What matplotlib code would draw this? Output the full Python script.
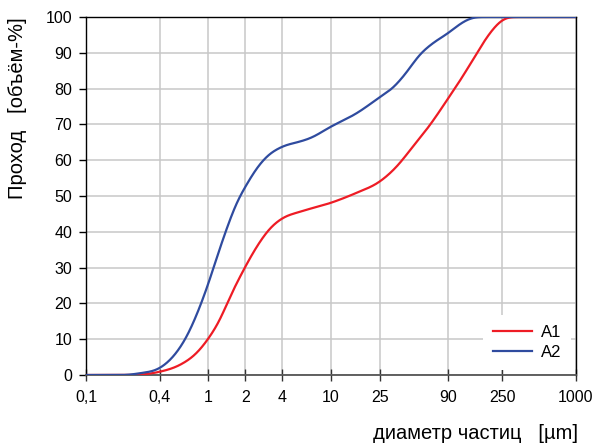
import matplotlib
matplotlib.use("Agg")
import matplotlib.pyplot as plt
import numpy as np

plt.rcParams['font.family'] = ['Liberation Sans', 'DejaVu Sans']

# particle diameter [um] and cumulative passing [vol-%]
d_a1 = [0.1, 0.2, 0.3, 0.4, 0.585, 0.8, 1.0, 1.24, 1.5, 1.75, 2.0, 2.47, 3.18,
        4.0, 5.58, 10, 16.2, 25, 34.4, 46.6, 64.2, 90.6, 121, 155, 198, 250,
        294, 1000]
p_a1 = [0, 0, 0.2, 0.9, 2.8, 6.1, 10.2, 15.4, 21.9, 26.5, 30.3, 35.8, 41.0,
        43.8, 45.6, 48.1, 50.9, 54.0, 58.2, 63.8, 69.8, 77.3, 83.8, 89.9, 95.5,
        99.2, 100, 100]

d_a2 = [0.1, 0.2, 0.276, 0.4, 0.515, 0.664, 0.852, 1.0, 1.2, 1.46, 1.7, 2.0,
        2.47, 2.98, 4.0, 5.58, 6.73, 10, 16.2, 25, 31.8, 40.9, 52.7, 67.9, 90.6,
        114.8, 137, 160, 1000]
p_a2 = [0, 0, 0.5, 1.9, 5.1, 10.7, 19.1, 25.6, 34.0, 42.4, 48.2, 52.6,
        57.7, 61.0, 63.8, 65.2, 66.1, 69.4, 73.1, 77.6, 80.1, 84.3, 89.4, 92.7,
        95.5, 98.2, 99.6, 100, 100]

xticks = [0.1, 0.4, 1, 2, 4, 10, 25, 90, 250, 1000]
xtick_labels = ['0,1', '0,4', '1', '2', '4', '10', '25', '90', '250', '1000']


def smooth(x, y, n=2000, sigma=0.035):
    # monotone cubic (Fritsch-Carlson) in log10(x), then a light gaussian blur
    lx = np.log10(x)
    y = np.asarray(y, float)
    h = np.diff(lx)
    delta = np.diff(y) / h
    m = np.zeros_like(y)
    m[1:-1] = (delta[:-1] * h[1:] + delta[1:] * h[:-1]) / (h[:-1] + h[1:])
    m[0], m[-1] = delta[0], delta[-1]
    for i in range(len(delta)):
        if delta[i] == 0:
            m[i] = m[i + 1] = 0
        else:
            a, b = m[i] / delta[i], m[i + 1] / delta[i]
            s = a * a + b * b
            if s > 9:
                t = 3 / np.sqrt(s)
                m[i], m[i + 1] = t * a * delta[i], t * b * delta[i]
    xs = np.linspace(lx[0], lx[-1], n)
    k = np.clip(np.searchsorted(lx, xs) - 1, 0, len(h) - 1)
    t = (xs - lx[k]) / h[k]
    h00 = 2 * t**3 - 3 * t**2 + 1
    h10 = t**3 - 2 * t**2 + t
    h01 = -2 * t**3 + 3 * t**2
    h11 = t**3 - t**2
    ys = h00 * y[k] + h10 * h[k] * m[k] + h01 * y[k + 1] + h11 * h[k] * m[k + 1]

    step = xs[1] - xs[0]
    r = int(4 * sigma / step)
    kern = np.exp(-0.5 * (np.arange(-r, r + 1) * step / sigma) ** 2)
    kern /= kern.sum()
    padded = np.concatenate([np.full(r, ys[0]), ys, np.full(r, ys[-1])])
    ys = np.convolve(padded, kern, mode='valid')
    return 10**xs, np.clip(ys, 0, 100)


fig = plt.figure(figsize=(5.96, 4.45), dpi=100)
ax = fig.add_axes([0.1443, 0.1573, 0.8221, 0.8045])

x1, y1 = smooth(d_a1, p_a1)
x2, y2 = smooth(d_a2, p_a2)
ax.plot(x1, y1, color='#ee1c25', lw=1.6, label='A1', zorder=3)
ax.plot(x2, y2, color='#2f4b9f', lw=1.6, label='A2', zorder=3)

ax.set_xscale('log')
ax.set_xlim(0.1, 1000)
ax.set_ylim(0, 100)
ax.set_xticks(xticks)
ax.set_xticklabels(xtick_labels)
ax.xaxis.set_minor_locator(matplotlib.ticker.NullLocator())
ax.set_yticks(np.arange(0, 101, 10))

ax.grid(True, color='#c8c8c8', lw=1.1)
ax.set_axisbelow(True)

for s in ['left', 'right', 'top']:
    ax.spines[s].set_color('black')
    ax.spines[s].set_linewidth(1.0)
ax.spines['bottom'].set_color('#555555')
ax.spines['bottom'].set_linewidth(1.3)

ax.tick_params(axis='x', direction='inout', length=9, width=1, color='#333333',
               labelsize=11.5, pad=6)
ax.tick_params(axis='y', direction='out', length=5, width=1, color='black',
               labelsize=11.5, pad=5)

fig.text(18 / 596, 1 - 17 / 445, 'Проход   [объём-%]', rotation=90,
         ha='center', va='top', fontsize=14.5)
fig.text(578 / 596, 1 - 443 / 445, 'диаметр частиц   [µm]', ha='right',
         va='bottom', fontsize=14.5)

leg = ax.legend(loc='center', bbox_to_anchor=(0.9, 0.092), frameon=True,
                fontsize=12, handlelength=2.35, borderpad=0.6,
                labelspacing=0.3, handletextpad=0.5)
leg.get_frame().set_edgecolor('none')
leg.get_frame().set_facecolor('white')
leg.get_frame().set_alpha(1.0)

fig.savefig('out.png', dpi=100)
